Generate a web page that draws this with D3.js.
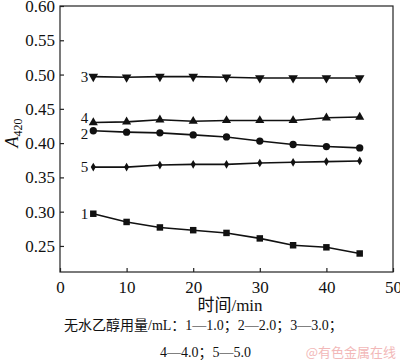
<!DOCTYPE html>
<html><head><meta charset="utf-8">
<script src="https://cdn.jsdelivr.net/npm/d3@7"></script>
<style>
html,body{margin:0;padding:0;background:#fff;}
svg{display:block;}
</style></head>
<body>
<svg id="chart" width="400" height="360"></svg>
<script>
const times = [5, 10, 15, 20, 25, 30, 35, 40, 45];
const series1 = [0.297, 0.285, 0.277, 0.273, 0.269, 0.261, 0.251, 0.248, 0.239];
const series2 = [0.418, 0.416, 0.415, 0.412, 0.409, 0.403, 0.398, 0.395, 0.393];
const series3 = [0.497, 0.496, 0.497, 0.497, 0.496, 0.495, 0.495, 0.495, 0.495];
const series4 = [0.430, 0.431, 0.434, 0.432, 0.433, 0.433, 0.433, 0.437, 0.438];
const series5 = [0.365, 0.365, 0.368, 0.369, 0.369, 0.371, 0.372, 0.373, 0.374];
const seriesLabels = ["1", "2", "3", "4", "5"];
const xTicks = [0, 10, 20, 30, 40, 50];
const yTicks = [0.25, 0.30, 0.35, 0.40, 0.45, 0.50, 0.55, 0.60];
const xTitle = "时间/min";
const legendLine1 = "无水乙醇用量/mL：1—1.0；2—2.0；3—3.0；";
const legendLine2 = "4—4.0；5—5.0";
const watermark = "@有色金属在线";

const svg = d3.select("#chart");
const m = {left: 60, right: 393, top: 6, bottom: 272};
const x = d3.scaleLinear().domain([0, 50]).range([m.left, m.right]);
const y = d3.scaleLinear().domain([0.212, 0.60]).range([m.bottom, m.top]);
const serif = "'Liberation Serif','Times New Roman',serif";
const cjk = "'Noto Sans CJK SC',sans-serif";

// frame
svg.append("rect").attr("x", m.left).attr("y", m.top)
  .attr("width", m.right - m.left).attr("height", m.bottom - m.top)
  .attr("fill", "none").attr("stroke", "#222").attr("stroke-width", 1.2);

const xAxis = svg.append("g").attr("transform", `translate(0,${m.bottom})`)
  .call(d3.axisBottom(x).tickValues(xTicks).tickSizeInner(-4).tickSizeOuter(0).tickPadding(9).tickFormat(d3.format("d")));
const yAxis = svg.append("g").attr("transform", `translate(${m.left},0)`)
  .call(d3.axisLeft(y).tickValues(yTicks).tickSizeInner(-4).tickSizeOuter(0).tickPadding(5).tickFormat(d3.format(".2f")));
[xAxis, yAxis].forEach(g => {
  g.select(".domain").remove();
  g.selectAll("line").attr("stroke", "#222").attr("stroke-width", 1.2);
  g.selectAll("text").attr("font-family", serif).attr("font-size", 17).attr("fill", "#111");
});

const line = d3.line().x((d, i) => x(times[i])).y(d => y(d));
const all = [series1, series2, series3, series4, series5];
const shapes = [d3.symbolSquare, d3.symbolCircle, d3.symbolTriangle, d3.symbolTriangle, d3.symbolDiamond];
const sizes = [42, 42, 40, 36, 22];
const rot = [0, 0, 180, 0, 0];
const labelShift = [0, 3.5, 0, -4.5, 0];

all.forEach((s, k) => {
  svg.append("path").datum(s).attr("d", line).attr("fill", "none")
    .attr("stroke", "#111").attr("stroke-width", 1.6);
  svg.selectAll(null).data(s).enter().append("path")
    .attr("d", d3.symbol().type(shapes[k]).size(sizes[k]))
    .attr("transform", (d, i) => `translate(${x(times[i])},${y(d)}) rotate(${rot[k]})`)
    .attr("fill", "#111");
  svg.append("text").attr("x", x(times[0]) - 5).attr("y", y(s[0]) + labelShift[k])
    .attr("text-anchor", "end").attr("dominant-baseline", "central")
    .attr("font-family", serif).attr("font-size", 15).attr("fill", "#111")
    .text(seriesLabels[k]);
});

// y title
const yt = svg.append("text").attr("transform", "translate(18,133) rotate(-90)")
  .attr("text-anchor", "middle").attr("font-family", serif).attr("fill", "#111");
yt.append("tspan").attr("font-style", "italic").attr("font-size", 18).text("A");
yt.append("tspan").attr("font-size", 12).attr("dy", 4).text("420");

svg.append("text").attr("x", 230).attr("y", 311).attr("text-anchor", "middle")
  .attr("font-family", `'Liberation Serif',${cjk}`).attr("font-size", 17).attr("fill", "#111")
  .text(xTitle);

svg.append("text").attr("x", 64).attr("y", 330)
  .attr("font-family", `'Liberation Serif',${cjk}`).attr("font-size", 14).attr("fill", "#111")
  .text(legendLine1);
svg.append("text").attr("x", 160).attr("y", 357)
  .attr("font-family", `'Liberation Serif',${cjk}`).attr("font-size", 14).attr("fill", "#111")
  .text(legendLine2);
svg.append("text").attr("x", 396).attr("y", 357).attr("text-anchor", "end")
  .attr("font-family", cjk).attr("font-size", 13).attr("fill", "#f2b8b8")
  .text(watermark);
</script>
</body></html>
